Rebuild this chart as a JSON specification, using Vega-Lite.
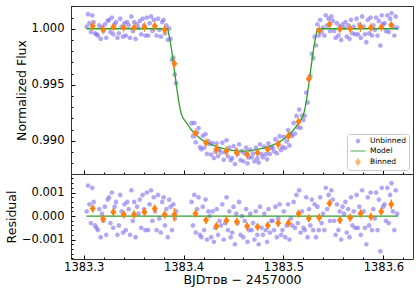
{
"$schema":"https://vega.github.io/schema/vega-lite/v6.json",
"padding":{"left":4,"top":5,"right":5,"bottom":5},
"background":"white",
"config":{"view":{"stroke":"#333","strokeWidth":1},"font":"DejaVu Sans",
"axis":{"grid":false,"domain":false,"labelFlush":false,"labelOverlap":false,"labelFont":"DejaVu Sans","labelFontSize":11.5,"labelColor":"#000","titleFont":"DejaVu Sans","titleFontSize":12.5,"titleFontWeight":"normal","titleColor":"#000","tickColor":"#000","tickWidth":1}},
"datasets":{
"pts":[
{"t":1383.303,"f":1.0002,"r":0.0002},{"t":1383.3044,"f":1.0013,"r":0.0013},{"t":1383.3058,"f":1.0005,"r":0.0005},{"t":1383.3072,"f":0.9997,"r":-0.0003},{"t":1383.3086,"f":1.0012,"r":0.0012},{"t":1383.31,"f":1.0006,"r":0.0006},{"t":1383.3114,"f":0.9996,"r":-0.0004},{"t":1383.3128,"f":0.9995,"r":-0.0005},
{"t":1383.3142,"f":0.9994,"r":-0.0006},{"t":1383.3156,"f":1.0003,"r":0.0003},{"t":1383.317,"f":0.9991,"r":-0.0009},{"t":1383.3184,"f":1.0001,"r":0.0001},{"t":1383.3198,"f":0.9998,"r":-0.0002},{"t":1383.3212,"f":1.0004,"r":0.0004},{"t":1383.3226,"f":0.9992,"r":-0.0008},{"t":1383.324,"f":1.0007,"r":0.0007},
{"t":1383.3254,"f":1.0008,"r":0.0008},{"t":1383.3268,"f":0.9997,"r":-0.0003},{"t":1383.3282,"f":1.001,"r":0.001},{"t":1383.3296,"f":0.9995,"r":-0.0005},{"t":1383.331,"f":1.0004,"r":0.0004},{"t":1383.3324,"f":1.0006,"r":0.0006},{"t":1383.3338,"f":0.9992,"r":-0.0008},
{"t":1383.3352,"f":0.9996,"r":-0.0004},{"t":1383.3366,"f":1.0009,"r":0.0009},{"t":1383.338,"f":1.0002,"r":0.0002},{"t":1383.3394,"f":0.9993,"r":-0.0007},{"t":1383.3408,"f":1.0005,"r":0.0005},{"t":1383.3422,"f":0.9994,"r":-0.0006},{"t":1383.3436,"f":1.0006,"r":0.0006},
{"t":1383.345,"f":1.0003,"r":0.0003},{"t":1383.3464,"f":0.9992,"r":-0.0008},{"t":1383.3478,"f":1.0011,"r":0.0011},{"t":1383.3492,"f":0.9998,"r":-0.0002},{"t":1383.3506,"f":1.0006,"r":0.0006},{"t":1383.352,"f":0.9991,"r":-0.0009},{"t":1383.3534,"f":1.0004,"r":0.0004},{"t":1383.3548,"f":1.0001,"r":0.0001},
{"t":1383.3562,"f":1.0007,"r":0.0007},{"t":1383.3576,"f":0.9995,"r":-0.0005},{"t":1383.359,"f":1.0009,"r":0.0009},{"t":1383.3604,"f":1.0003,"r":0.0003},{"t":1383.3618,"f":0.9994,"r":-0.0006},{"t":1383.3632,"f":1.001,"r":0.001},{"t":1383.3646,"f":0.9994,"r":-0.0006},
{"t":1383.366,"f":1.0005,"r":0.0005},{"t":1383.3674,"f":1.0011,"r":0.0011},{"t":1383.3688,"f":0.9998,"r":-0.0002},{"t":1383.3702,"f":1.0008,"r":0.0008},{"t":1383.3716,"f":1.0002,"r":0.0002},{"t":1383.373,"f":0.9994,"r":-0.0006},{"t":1383.3744,"f":1.0009,"r":0.0009},{"t":1383.3758,"f":0.9999,"r":-0.0001},
{"t":1383.3772,"f":0.9993,"r":-0.0007},{"t":1383.3786,"f":1.0006,"r":0.0006},{"t":1383.38,"f":1.0008,"r":0.0008},{"t":1383.3814,"f":0.9996,"r":-0.0004},{"t":1383.3828,"f":1.0003,"r":0.0003},{"t":1383.3842,"f":0.99902,"r":-0.0009},{"t":1383.3856,"f":1.00003,"r":0.0007},
{"t":1383.387,"f":0.9991,"r":0.0004},{"t":1383.3884,"f":0.99724,"r":-0.0006},{"t":1383.3898,"f":0.99743,"r":0.0005},{"t":1383.3912,"f":0.99592,"r":-0.0001},{"t":1383.3926,"f":0.99514,"r":0.0002},
{"t":1383.408,"f":0.99157,"r":0.0006},{"t":1383.4094,"f":0.99041,"r":-0.0004},{"t":1383.4108,"f":0.99159,"r":0.0009},{"t":1383.4122,"f":0.98986,"r":-0.0007},{"t":1383.4136,"f":0.99074,"r":0.0003},{"t":1383.415,"f":0.99113,"r":0.0008},{"t":1383.4164,"f":0.98943,"r":-0.0008},
{"t":1383.4178,"f":0.98923,"r":-0.0009},{"t":1383.4192,"f":0.99044,"r":0.0004},{"t":1383.4206,"f":0.98937,"r":-0.0006},{"t":1383.422,"f":0.9906,"r":0.0007},{"t":1383.4234,"f":0.98883,"r":-0.001},{"t":1383.4248,"f":0.98997,"r":0.0002},{"t":1383.4262,"f":0.98971,"r":0},
{"t":1383.4276,"f":0.98876,"r":-0.0009},{"t":1383.429,"f":0.9898,"r":0.0002},{"t":1383.4304,"f":0.98846,"r":-0.0011},{"t":1383.4318,"f":0.98902,"r":-0.0005},{"t":1383.4332,"f":0.98977,"r":0.0003},{"t":1383.4346,"f":0.98863,"r":-0.0008},{"t":1383.436,"f":0.9892,"r":-0.0002},{"t":1383.4374,"f":0.98896,"r":-0.0004},
{"t":1383.4388,"f":0.98983,"r":0.0005},{"t":1383.4402,"f":0.9883,"r":-0.001},{"t":1383.4416,"f":0.98897,"r":-0.0003},{"t":1383.443,"f":0.99004,"r":0.0008},{"t":1383.4444,"f":0.98861,"r":-0.0006},{"t":1383.4458,"f":0.98939,"r":0.0002},{"t":1383.4472,"f":0.98827,"r":-0.0009},
{"t":1383.4486,"f":0.98845,"r":-0.0007},{"t":1383.45,"f":0.98953,"r":0.0004},{"t":1383.4514,"f":0.98792,"r":-0.0012},{"t":1383.4528,"f":0.9892,"r":0.0001},{"t":1383.4542,"f":0.98879,"r":-0.0003},{"t":1383.4556,"f":0.98968,"r":0.0006},{"t":1383.457,"f":0.98828,"r":-0.0008},{"t":1383.4584,"f":0.98907,"r":0},
{"t":1383.4598,"f":0.98817,"r":-0.0009},{"t":1383.4612,"f":0.98888,"r":-0.0002},{"t":1383.4626,"f":0.98938,"r":0.0003},{"t":1383.464,"f":0.98799,"r":-0.0011},{"t":1383.4654,"f":0.9885,"r":-0.0006},{"t":1383.4668,"f":0.98922,"r":0.0001},{"t":1383.4682,"f":0.98853,"r":-0.0006},
{"t":1383.4696,"f":0.98885,"r":-0.0003},{"t":1383.471,"f":0.98817,"r":-0.001},{"t":1383.4724,"f":0.98939,"r":0.0002},{"t":1383.4738,"f":0.98842,"r":-0.0008},{"t":1383.4752,"f":0.98805,"r":-0.0012},{"t":1383.4766,"f":0.98968,"r":0.0004},{"t":1383.478,"f":0.9888,"r":-0.0005},
{"t":1383.4794,"f":0.98853,"r":-0.0008},{"t":1383.4808,"f":0.98947,"r":0.0001},{"t":1383.4822,"f":0.9888,"r":-0.0006},{"t":1383.4836,"f":0.98834,"r":-0.0011},{"t":1383.485,"f":0.98978,"r":0.0003},{"t":1383.4864,"f":0.98882,"r":-0.0007},{"t":1383.4878,"f":0.98935,"r":-0.0002},{"t":1383.4892,"f":0.98941,"r":-0.0002},
{"t":1383.4906,"f":0.98906,"r":-0.0006},{"t":1383.492,"f":0.99012,"r":0.0004},{"t":1383.4934,"f":0.98888,"r":-0.0009},{"t":1383.4948,"f":0.98974,"r":-0.0001},{"t":1383.4962,"f":0.99041,"r":0.0005},{"t":1383.4976,"f":0.98918,"r":-0.0008},{"t":1383.499,"f":0.98945,"r":-0.0006},
{"t":1383.5004,"f":0.99035,"r":0.0002},{"t":1383.5018,"f":0.98935,"r":-0.0009},{"t":1383.5032,"f":0.98994,"r":-0.0004},{"t":1383.5046,"f":0.99095,"r":0.0005},{"t":1383.506,"f":0.98958,"r":-0.001},{"t":1383.5074,"f":0.99061,"r":-0.0001},{"t":1383.5088,"f":0.99043,"r":-0.0004},
{"t":1383.5102,"f":0.99159,"r":0.0006},{"t":1383.5116,"f":0.99065,"r":-0.0005},{"t":1383.513,"f":0.99222,"r":0.0009},{"t":1383.5144,"f":0.9912,"r":-0.0003},{"t":1383.5158,"f":0.99278,"r":0.0011},{"t":1383.5172,"f":0.99115,"r":-0.0007},{"t":1383.5186,"f":0.99225,"r":0.0002},{"t":1383.52,"f":0.99185,"r":-0.0005},
{"t":1383.5214,"f":0.99223,"r":-0.0006},{"t":1383.5228,"f":0.9943,"r":0.0008},{"t":1383.5242,"f":0.99342,"r":-0.0009},{"t":1383.5256,"f":0.99552,"r":0.0003},{"t":1383.527,"f":0.99575,"r":-0.0004},{"t":1383.5284,"f":0.99776,"r":0.0007},{"t":1383.5298,"f":0.99738,"r":-0.0006},
{"t":1383.5312,"f":0.99929,"r":0.0005},{"t":1383.5326,"f":0.99852,"r":-0.0009},{"t":1383.534,"f":1.0004,"r":0.0004},{"t":1383.5354,"f":0.9994,"r":-0.0006},{"t":1383.5368,"f":1.0008,"r":0.0008},{"t":1383.5382,"f":0.9997,"r":-0.0003},{"t":1383.5396,"f":1.0001,"r":0.0001},{"t":1383.541,"f":0.9994,"r":-0.0006},
{"t":1383.5424,"f":1.0012,"r":0.0012},{"t":1383.5438,"f":1.0003,"r":0.0003},{"t":1383.5452,"f":1.0009,"r":0.0009},{"t":1383.5466,"f":0.9998,"r":-0.0002},{"t":1383.548,"f":1.0011,"r":0.0011},{"t":1383.5494,"f":1.0007,"r":0.0007},{"t":1383.5508,"f":0.9998,"r":-0.0002},
{"t":1383.5522,"f":0.9992,"r":-0.0008},{"t":1383.5536,"f":1.0005,"r":0.0005},{"t":1383.555,"f":0.9994,"r":-0.0006},{"t":1383.5564,"f":1.0002,"r":0.0002},{"t":1383.5578,"f":0.999,"r":-0.001},{"t":1383.5592,"f":1.0004,"r":0.0004},{"t":1383.5606,"f":1.0001,"r":0.0001},
{"t":1383.562,"f":1.0006,"r":0.0006},{"t":1383.5634,"f":0.9993,"r":-0.0007},{"t":1383.5648,"f":1.0003,"r":0.0003},{"t":1383.5662,"f":0.9991,"r":-0.0009},{"t":1383.5676,"f":1.0008,"r":0.0008},{"t":1383.569,"f":0.9996,"r":-0.0004},{"t":1383.5704,"f":1.0002,"r":0.0002},{"t":1383.5718,"f":0.9995,"r":-0.0005},
{"t":1383.5732,"f":1.0009,"r":0.0009},{"t":1383.5746,"f":0.9995,"r":-0.0005},{"t":1383.576,"f":1.0004,"r":0.0004},{"t":1383.5774,"f":0.9992,"r":-0.0008},{"t":1383.5788,"f":1.0011,"r":0.0011},{"t":1383.5802,"f":1.0002,"r":0.0002},{"t":1383.5816,"f":0.9995,"r":-0.0005},
{"t":1383.583,"f":0.9988,"r":-0.0012},{"t":1383.5844,"f":1.0008,"r":0.0008},{"t":1383.5858,"f":0.9996,"r":-0.0004},{"t":1383.5872,"f":1.001,"r":0.001},{"t":1383.5886,"f":0.9994,"r":-0.0006},{"t":1383.59,"f":1.0003,"r":0.0003},{"t":1383.5914,"f":0.9999,"r":-0.0001},
{"t":1383.5928,"f":1.001,"r":0.001},{"t":1383.5942,"f":0.9994,"r":-0.0006},{"t":1383.5956,"f":1.0007,"r":0.0007},{"t":1383.597,"f":0.9985,"r":-0.0015},{"t":1383.5984,"f":1.0012,"r":0.0012},{"t":1383.5998,"f":1.0004,"r":0.0004},{"t":1383.6012,"f":1.0005,"r":0.0005},{"t":1383.6026,"f":0.9998,"r":-0.0002},
{"t":1383.604,"f":1.0012,"r":0.0012},{"t":1383.6054,"f":0.9997,"r":-0.0003},{"t":1383.6068,"f":1.0009,"r":0.0009},{"t":1383.6082,"f":1.0014,"r":0.0014},{"t":1383.6096,"f":1.0002,"r":0.0002},{"t":1383.611,"f":0.9994,"r":-0.0006},{"t":1383.6124,"f":1.0011,"r":0.0011},{"t":1383.6138,"f":1.0001,"r":0.0001}
],
"bins":[
{"t":1383.309,"f":1.00024,"r":0.00032,"e":0.00017},{"t":1383.3194,"f":0.99994,"r":-0.00012,"e":0.00017},{"t":1383.3297,"f":1.00015,"r":0.00017,"e":0.00017},{"t":1383.3401,"f":1.00009,"r":0.00007,"e":0.00017},{"t":1383.3504,"f":1.00009,"r":0.00007,"e":0.00017},{"t":1383.3608,"f":1.00015,"r":0.00017,"e":0.00017},{"t":1383.3711,"f":1.00024,"r":0.00032,"e":0.00017},{"t":1383.3811,"f":0.99991,"r":0.00006,"e":0.00017},{"t":1383.3908,"f":0.99688,"r":0.00006,"e":0.00028},
{"t":1383.4119,"f":0.99066,"r":0.0001,"e":0.00017},{"t":1383.4225,"f":0.98982,"r":-0.00017,"e":0.00017},{"t":1383.4329,"f":0.98923,"r":-0.00043,"e":0.00017},{"t":1383.4429,"f":0.98908,"r":-0.00019,"e":0.00017},{"t":1383.4533,"f":0.98893,"r":-0.00024,"e":0.00017},{"t":1383.4636,"f":0.98878,"r":-0.00043,"e":0.00017},{"t":1383.474,"f":0.98893,"r":-0.00046,"e":0.00017},
{"t":1383.4843,"f":0.98923,"r":-0.0004,"e":0.00017},{"t":1383.4947,"f":0.98968,"r":-0.0003,"e":0.00017},{"t":1383.505,"f":0.99042,"r":-0.0003,"e":0.00017},{"t":1383.5151,"f":0.9917,"r":0.0001,"e":0.00017},{"t":1383.5254,"f":0.99554,"r":-0.0001,"e":0.00017},{"t":1383.5358,"f":0.99985,"r":-0.00007,"e":0.00017},{"t":1383.5461,"f":1.00039,"r":0.00054,"e":0.00017},
{"t":1383.5565,"f":0.99997,"r":-0.00017,"e":0.00017},{"t":1383.5668,"f":1.0,"r":-0.00007,"e":0.00017},{"t":1383.5772,"f":1.00015,"r":0.00011,"e":0.00017},{"t":1383.5875,"f":1.00009,"r":-0.00003,"e":0.00017},{"t":1383.5979,"f":1.00015,"r":0.00019,"e":0.00017},{"t":1383.6079,"f":1.00033,"r":0.0005,"e":0.0002}
],
"model":[
{"t":1383.3026,"m":1.0},{"t":1383.3841,"m":1.0},{"t":1383.385,"m":0.9996},{"t":1383.386,"m":0.99915},{"t":1383.387,"m":0.9987},{"t":1383.388,"m":0.9981},{"t":1383.389,"m":0.99745},{"t":1383.39,"m":0.9968},{"t":1383.391,"m":0.99615},{"t":1383.392,"m":0.9955},{"t":1383.393,"m":0.9948},{"t":1383.394,"m":0.9942},{"t":1383.395,"m":0.9936},{"t":1383.396,"m":0.9931},{"t":1383.397,"m":0.99265},{"t":1383.398,"m":0.99235},{"t":1383.399,"m":0.99212},{"t":1383.4,"m":0.99195},{"t":1383.402,"m":0.9917},{"t":1383.404,"m":0.99145},{"t":1383.406,"m":0.9912},{"t":1383.409,"m":0.99085},{"t":1383.414,"m":0.9904},{"t":1383.419,"m":0.99005},{"t":1383.424,"m":0.9898},{"t":1383.429,"m":0.9896},{"t":1383.434,"m":0.98945},{"t":1383.439,"m":0.98932},{"t":1383.444,"m":0.98922},{"t":1383.449,"m":0.98914},{"t":1383.454,"m":0.98909},{"t":1383.459,"m":0.98907},
{"t":1383.464,"m":0.98909},{"t":1383.469,"m":0.98914},{"t":1383.474,"m":0.98922},{"t":1383.479,"m":0.98932},{"t":1383.484,"m":0.98945},{"t":1383.489,"m":0.9896},{"t":1383.494,"m":0.9898},{"t":1383.499,"m":0.99005},{"t":1383.504,"m":0.9904},{"t":1383.509,"m":0.99085},{"t":1383.512,"m":0.9912},{"t":1383.514,"m":0.99145},{"t":1383.516,"m":0.9917},{"t":1383.518,"m":0.99195},{"t":1383.519,"m":0.99212},{"t":1383.52,"m":0.99235},{"t":1383.521,"m":0.99265},{"t":1383.522,"m":0.9931},{"t":1383.523,"m":0.9936},{"t":1383.524,"m":0.9942},{"t":1383.525,"m":0.9948},{"t":1383.526,"m":0.9955},{"t":1383.527,"m":0.99615},{"t":1383.528,"m":0.9968},{"t":1383.529,"m":0.99745},{"t":1383.53,"m":0.9981},{"t":1383.531,"m":0.9987},{"t":1383.532,"m":0.99915},{"t":1383.533,"m":0.9996},{"t":1383.5339,"m":1.0},{"t":1383.6146,"m":1.0}
],
"zero":[{"t":1383.3026,"z":0},{"t":1383.6146,"z":0}]
},
"vconcat":[
{"width":342,"height":168,
"resolve":{"axis":{"x":"independent","y":"independent"}},
"layer":[
{"data":{"name":"pts"},"mark":{"type":"point","filled":true,"size":56,"opacity":0.58},
"encoding":{
"x":{"field":"t","type":"quantitative","scale":{"domain":[1383.2873,1383.6297],"nice":false,"zero":false},"axis":{"orient":"bottom","values":[1383.3,1383.4,1383.5,1383.6],"labels":false,"tickSize":-4,"title":null}},
"y":{"field":"f","type":"quantitative","scale":{"domain":[0.98703,1.00203],"nice":false,"zero":false},"axis":{"orient":"left","values":[0.99,0.995,1.0],"format":".3f","tickSize":-4,"labelPadding":11,"title":"Normalized Flux","titlePadding":3}},
"color":{"datum":"Unbinned","type":"nominal","scale":{"domain":["Unbinned","Model","Binned"],"range":["#7b68ee","#2ca02c","#ff7f0e"]},
"legend":{"title":null,"orient":"bottom-right","offset":4,"padding":3,"strokeColor":"#cccccc","fillColor":"#ffffff","cornerRadius":3,"labelFont":"DejaVu Sans","labelFontSize":7.5,"labelColor":"#000","symbolSize":56,"symbolStrokeWidth":0,"symbolOffset":4,"labelOffset":8,"rowPadding":2,
"encode":{"symbols":{"update":{"opacity":{"signal":"datum.value === 'Unbinned' ? 0.58 : 1"}}}}}},
"shape":{"datum":"Unbinned","type":"nominal","scale":{"domain":["Unbinned","Model","Binned"],"range":["M0.62,0A0.62,0.62,0,1,1,-0.62,0A0.62,0.62,0,1,1,0.62,0Z","M-2,-0.2L2,-0.2L2,0.2L-2,0.2Z","M0,-1L0.78,0L0,1L-0.78,0Z M-0.1,-1.3L0.1,-1.3L0.1,1.3L-0.1,1.3Z"]}}
}},
{"data":{"name":"model"},"mark":{"type":"line","strokeWidth":1.3},
"encoding":{
"x":{"field":"t","type":"quantitative","scale":{"domain":[1383.2873,1383.6297],"nice":false,"zero":false},"axis":{"orient":"bottom","values":[1383.32,1383.34,1383.36,1383.38,1383.42,1383.44,1383.46,1383.48,1383.52,1383.54,1383.56,1383.58,1383.62],"labels":false,"tickSize":-2,"title":null}},
"y":{"field":"m","type":"quantitative","scale":{"domain":[0.98703,1.00203],"nice":false,"zero":false},"axis":{"orient":"left","values":[0.988,0.989,0.991,0.992,0.993,0.994,0.996,0.997,0.998,0.999,1.001,1.002],"labels":false,"tickSize":-2,"title":null}},
"color":{"datum":"Model","type":"nominal"}
}},
{"data":{"name":"bins"},"mark":{"type":"errorbar","color":"#ff7f0e","thickness":1.3},
"encoding":{
"x":{"field":"t","type":"quantitative","axis":null},
"y":{"field":"f","type":"quantitative","axis":null},
"yError":{"field":"e"}
}},
{"data":{"name":"bins"},"mark":{"type":"point","filled":true,"size":60,"opacity":1},
"encoding":{
"x":{"field":"t","type":"quantitative","axis":null},
"y":{"field":"f","type":"quantitative","axis":null},
"color":{"datum":"Binned","type":"nominal"},
"shape":{"datum":"Binned","type":"nominal"}
}}
]},
{"width":342,"height":85,
"resolve":{"axis":{"x":"independent","y":"independent"}},
"layer":[
{"data":{"name":"pts"},"mark":{"type":"point","filled":true,"size":56,"opacity":0.58,"color":"#7b68ee","shape":"M0.62,0A0.62,0.62,0,1,1,-0.62,0A0.62,0.62,0,1,1,0.62,0Z"},
"encoding":{
"x":{"field":"t","type":"quantitative","scale":{"domain":[1383.2873,1383.6297],"nice":false,"zero":false},"axis":{"orient":"bottom","values":[1383.3,1383.4,1383.5,1383.6],"format":".1f","tickSize":-4,"labelPadding":6,"title":"BJDᴛᴅʙ − 2457000","titlePadding":1}},
"y":{"field":"r","type":"quantitative","scale":{"domain":[-0.00183,0.00179],"nice":false,"zero":false},"axis":{"orient":"left","values":[-0.001,0,0.001],"format":".3f","tickSize":-4,"labelPadding":11,"title":"Residual","titlePadding":3}}
}},
{"data":{"name":"zero"},"mark":{"type":"line","strokeWidth":1.3,"color":"#2ca02c"},
"encoding":{
"x":{"field":"t","type":"quantitative","scale":{"domain":[1383.2873,1383.6297],"nice":false,"zero":false},"axis":{"orient":"bottom","values":[1383.32,1383.34,1383.36,1383.38,1383.42,1383.44,1383.46,1383.48,1383.52,1383.54,1383.56,1383.58,1383.62],"labels":false,"tickSize":-2,"title":null}},
"y":{"field":"z","type":"quantitative","scale":{"domain":[-0.00183,0.00179],"nice":false,"zero":false},"axis":{"orient":"left","values":[-0.0018,-0.0016,-0.0014,-0.0012,-0.0008,-0.0006,-0.0004,-0.0002,0.0002,0.0004,0.0006,0.0008,0.0012,0.0014,0.0016],"labels":false,"tickSize":-2,"title":null}}
}},
{"data":{"name":"bins"},"mark":{"type":"errorbar","color":"#ff7f0e","thickness":1.3},
"encoding":{
"x":{"field":"t","type":"quantitative","axis":null},
"y":{"field":"r","type":"quantitative","axis":null},
"yError":{"field":"e"}
}},
{"data":{"name":"bins"},"mark":{"type":"point","filled":true,"size":60,"opacity":1,"color":"#ff7f0e","shape":"M0,-1L0.78,0L0,1L-0.78,0Z"},
"encoding":{
"x":{"field":"t","type":"quantitative","axis":null},
"y":{"field":"r","type":"quantitative","axis":null}
}}
]}
],
"spacing":0,
"bounds":"flush",
"resolve":{"scale":{"color":"independent","shape":"independent"},"legend":{"color":"independent","shape":"independent"}}
}
